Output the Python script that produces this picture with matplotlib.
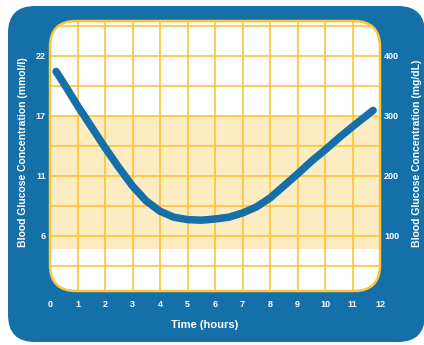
import matplotlib
matplotlib.use('Agg')
import matplotlib.pyplot as plt
from matplotlib.patches import FancyBboxPatch

# glucose curve: time in hours, level in mg/dL
hours = [0.22, 0.5, 1.0, 1.5, 2.0, 2.5, 3.0, 3.5, 4.0, 4.5, 5.0, 5.5, 6.0,
         6.5, 7.0, 7.5, 8.0, 8.5, 9.0, 9.5, 10.0, 10.5, 11.0, 11.75]
glucose = [374, 354, 317, 282, 247, 214, 183, 158, 141, 131, 127, 126, 128,
           131, 138, 148, 163, 183, 203, 224, 243, 263, 282, 309]

hour_ticks = list(range(0, 13))
mgdl_ticks = [100, 200, 300, 400]
mmol_labels = ['6', '11', '17', '22']
mgdl_labels = ['100', '200', '300', '400']

# shaded band (mg/dL)
band_low = 78
band_high = 300

BLUE = '#1570aa'
GOLD = '#fdc43a'
SHADE = '#fdebc1'

plt.rcParams['font.family'] = ['Liberation Sans', 'DejaVu Sans']
plt.rcParams['font.weight'] = 'bold'

fig = plt.figure(figsize=(4.24, 3.45), dpi=100)
fig.patch.set_facecolor('white')

# blue frame behind everything
outer = FancyBboxPatch((0.08, 0.03), 4.17, 3.36,
                       boxstyle='round,pad=0,rounding_size=0.27',
                       transform=fig.dpi_scale_trans, fc=BLUE, ec='none', zorder=-10)
fig.add_artist(outer)


def inner_box(**kw):
    return FancyBboxPatch((0.50, 0.54), 3.30, 2.70,
                          boxstyle='round,pad=0,rounding_size=0.26',
                          transform=fig.dpi_scale_trans, **kw)


fig.add_artist(inner_box(fc='white', ec='none', zorder=-5))
clip = inner_box(fc='none', ec='none')
fig.add_artist(inner_box(fc='none', ec=GOLD, lw=1.8, zorder=5))

ax = fig.add_axes([50 / 424, 54 / 345, 330 / 424, 270 / 345])
ax.patch.set_visible(False)
ax.set_xlim(0, 12)
ax.set_ylim(8, 458)

band = ax.axhspan(band_low, band_high, color=SHADE, lw=0, zorder=1)
band.set_clip_path(clip)

vl = ax.vlines(hour_ticks[1:-1], 8, 458, color=GOLD, lw=1.2, zorder=2)
vl.set_clip_path(clip)
hl = ax.hlines(list(range(50, 451, 50)), 0, 12, color=GOLD, lw=1.2, zorder=2)
hl.set_clip_path(clip)

ax.plot(hours, glucose, color=BLUE, lw=5.4, solid_capstyle='round',
        solid_joinstyle='round', zorder=3)

ax.set_xticks(hour_ticks)
ax.set_yticks(mgdl_ticks, mmol_labels)
ax.tick_params(axis='x', length=0, labelcolor='white', labelsize=6.5, pad=6.5)
ax.tick_params(axis='y', length=0, labelcolor='white', labelsize=6.5, pad=3)
for s in ax.spines.values():
    s.set_visible(False)

ax2 = ax.twinx()
ax2.set_ylim(ax.get_ylim())
ax2.set_yticks(mgdl_ticks, mgdl_labels)
ax2.tick_params(axis='y', length=0, labelcolor='white', labelsize=6.5, pad=3)
for s in ax2.spines.values():
    s.set_visible(False)

fig.text(205 / 424, (345 - 325) / 345, 'Time (hours)', color='white',
         fontsize=8, ha='center', va='center')
fig.text(23 / 424, (345 - 152) / 345, 'Blood Glucose Concentration (mmol/l)',
         color='white', fontsize=7.5, rotation=90, ha='center', va='center')
fig.text(417 / 424, (345 - 153) / 345, 'Blood Glucose Concentration (mg/dL)',
         color='white', fontsize=7.5, rotation=90, ha='center', va='center')

fig.savefig('out.png', dpi=100)
